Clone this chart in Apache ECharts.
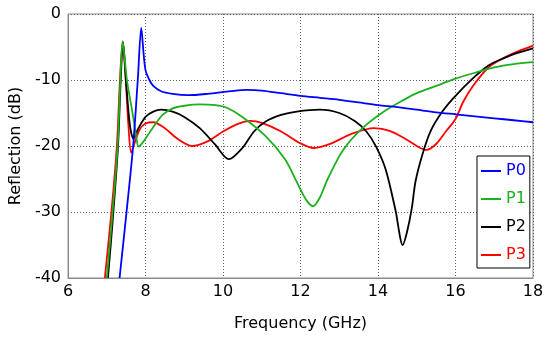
<!DOCTYPE html>
<html><head><meta charset="utf-8">
<script src="https://cdn.jsdelivr.net/npm/echarts@6/dist/echarts.min.js"></script>
<style>html,body{margin:0;padding:0;background:#fff}#c{width:550px;height:340px}</style>
</head><body><div id="c"></div>
<script>
const seriesNames = ['P0', 'P1', 'P2', 'P3'];
const seriesColors = ['#0000FF', '#1DB01D', '#000000', '#FF0000'];

const p0Data = [[7.33,-40],[7.51,-30],[7.68,-20],[7.80,-10],[7.89,-2.1],[7.95,-6],[8.0,-8.5],[8.1,-10],[8.2,-10.9],[8.4,-11.7],[8.7,-12.1],[9.1,-12.3],[9.6,-12.1],[10.2,-11.7],[10.6,-11.5],[11.0,-11.6],[11.5,-12.0],[12.0,-12.4],[12.5,-12.7],[13.0,-13.0],[13.5,-13.4],[14.0,-13.8],[14.5,-14.1],[15.0,-14.5],[15.5,-14.9],[16.0,-15.2],[16.5,-15.5],[17.0,-15.8],[17.5,-16.1],[18.0,-16.4]];

const p1Data = [[7.0,-40],[7.15,-30],[7.28,-20],[7.35,-10],[7.41,-4.2],[7.52,-10],[7.67,-15.2],[7.76,-18.5],[7.82,-20.1],[7.95,-19.3],[8.18,-17.3],[8.44,-15.3],[8.7,-14.3],[9.0,-13.9],[9.4,-13.7],[9.8,-13.8],[10.1,-14.2],[10.5,-15.6],[11.1,-18.5],[11.6,-22.0],[11.9,-25.4],[12.15,-28.2],[12.33,-29.1],[12.5,-27.8],[12.7,-25.0],[13.1,-20.6],[13.6,-17.3],[14.2,-14.6],[14.7,-12.9],[15.0,-12.0],[15.5,-10.9],[16.0,-9.8],[16.5,-8.9],[17.0,-8.1],[17.5,-7.6],[18.0,-7.3]];

const p2Data = [[7.03,-40],[7.17,-30],[7.29,-20],[7.36,-10],[7.42,-4.3],[7.5,-10.5],[7.6,-17],[7.69,-18.9],[7.8,-17.5],[8.0,-15.6],[8.2,-14.8],[8.4,-14.5],[8.7,-14.8],[9.0,-15.6],[9.4,-17.3],[9.8,-19.8],[10.15,-22.0],[10.5,-20.3],[10.8,-17.8],[11.1,-16.3],[11.5,-15.3],[11.9,-14.8],[12.5,-14.5],[13.0,-15.0],[13.4,-16.2],[13.7,-17.8],[13.95,-20.1],[14.2,-23.6],[14.45,-29.7],[14.64,-35.0],[14.75,-33.0],[14.87,-29.5],[14.97,-25.3],[15.15,-21.2],[15.36,-17.7],[15.67,-14.7],[16.0,-12.4],[16.44,-9.8],[16.85,-7.8],[17.28,-6.6],[17.6,-5.9],[18.0,-5.2]];

const p3Data = [[6.95,-40],[7.12,-30],[7.26,-20],[7.34,-10],[7.41,-4.1],[7.49,-10],[7.56,-17],[7.63,-21],[7.72,-19.5],[7.85,-17.5],[8.0,-16.6],[8.2,-16.4],[8.5,-17.3],[8.8,-18.8],[9.2,-20.0],[9.6,-19.3],[10.0,-17.8],[10.4,-16.6],[10.7,-16.2],[11.0,-16.5],[11.5,-17.8],[12.0,-19.6],[12.35,-20.3],[12.8,-19.6],[13.3,-18.2],[13.9,-17.3],[14.3,-17.7],[14.7,-18.9],[15.0,-20.0],[15.25,-20.6],[15.5,-19.7],[15.75,-17.8],[16.0,-15.9],[16.2,-13.3],[16.45,-10.9],[16.85,-8.1],[17.3,-6.5],[17.6,-5.7],[18.0,-4.8]];

const xTicks = [6, 8, 10, 12, 14, 16, 18];
const yTicks = [-40, -30, -20, -10, 0];
const xTitle = 'Frequency (GHz)';
const yTitle = 'Reflection (dB)';

const allData = [p0Data, p1Data, p2Data, p3Data];
const FONT = 'DejaVu Sans';
const chart = echarts.init(document.getElementById('c'), null, {renderer: 'canvas'});
chart.setOption({
  animation: false,
  backgroundColor: '#fff',
  grid: {left: 65, right: 17, top: 14, bottom: 62, show: true, borderColor: '#8a8a8a', borderWidth: 1, backgroundColor: 'transparent'},
  xAxis: {
    type: 'value', min: xTicks[0], max: xTicks[xTicks.length-1], interval: 2,
    name: xTitle, nameLocation: 'middle', nameGap: 38,
    nameTextStyle: {fontFamily: FONT, fontSize: 16, color: '#000'},
    axisLine: {show: true, onZero: false, lineStyle: {color: '#8a8a8a', width: 1}},
    axisTick: {show: false},
    axisLabel: {fontFamily: FONT, fontSize: 16, color: '#000', margin: 6},
    splitLine: {show: true, lineStyle: {color: '#606060', type: [1, 2], width: 1}}
  },
  yAxis: {
    type: 'value', min: yTicks[0], max: yTicks[yTicks.length-1], interval: 10,
    name: yTitle, nameLocation: 'middle', nameGap: 37,
    nameTextStyle: {fontFamily: FONT, fontSize: 16, color: '#000'},
    axisLine: {show: true, onZero: false, lineStyle: {color: '#8a8a8a', width: 1}},
    axisTick: {show: false},
    axisLabel: {fontFamily: FONT, fontSize: 16, color: '#000', margin: 7},
    splitLine: {show: true, lineStyle: {color: '#606060', type: [1, 2], width: 1}}
  },
  legend: {
    orient: 'vertical', left: 477, top: 156,
    backgroundColor: '#fff', borderColor: '#000', borderWidth: 1, borderRadius: 0,
    padding: [7, 4, 5, 4], itemGap: 12,
    icon: 'rect', itemWidth: 20, itemHeight: 2,
    textStyle: {fontFamily: FONT, fontSize: 16},
    data: seriesNames.map((n, i) => ({name: n, textStyle: {color: seriesColors[i]}}))
  },
  series: seriesNames.map((n, i) => ({
    name: n, type: 'line', data: allData[i], showSymbol: false, symbol: 'none',
    smooth: 0.3, clip: true,
    lineStyle: {color: seriesColors[i], width: 1.8}, itemStyle: {color: seriesColors[i]},
    z: 10 - i
  }))
});
</script></body></html>
